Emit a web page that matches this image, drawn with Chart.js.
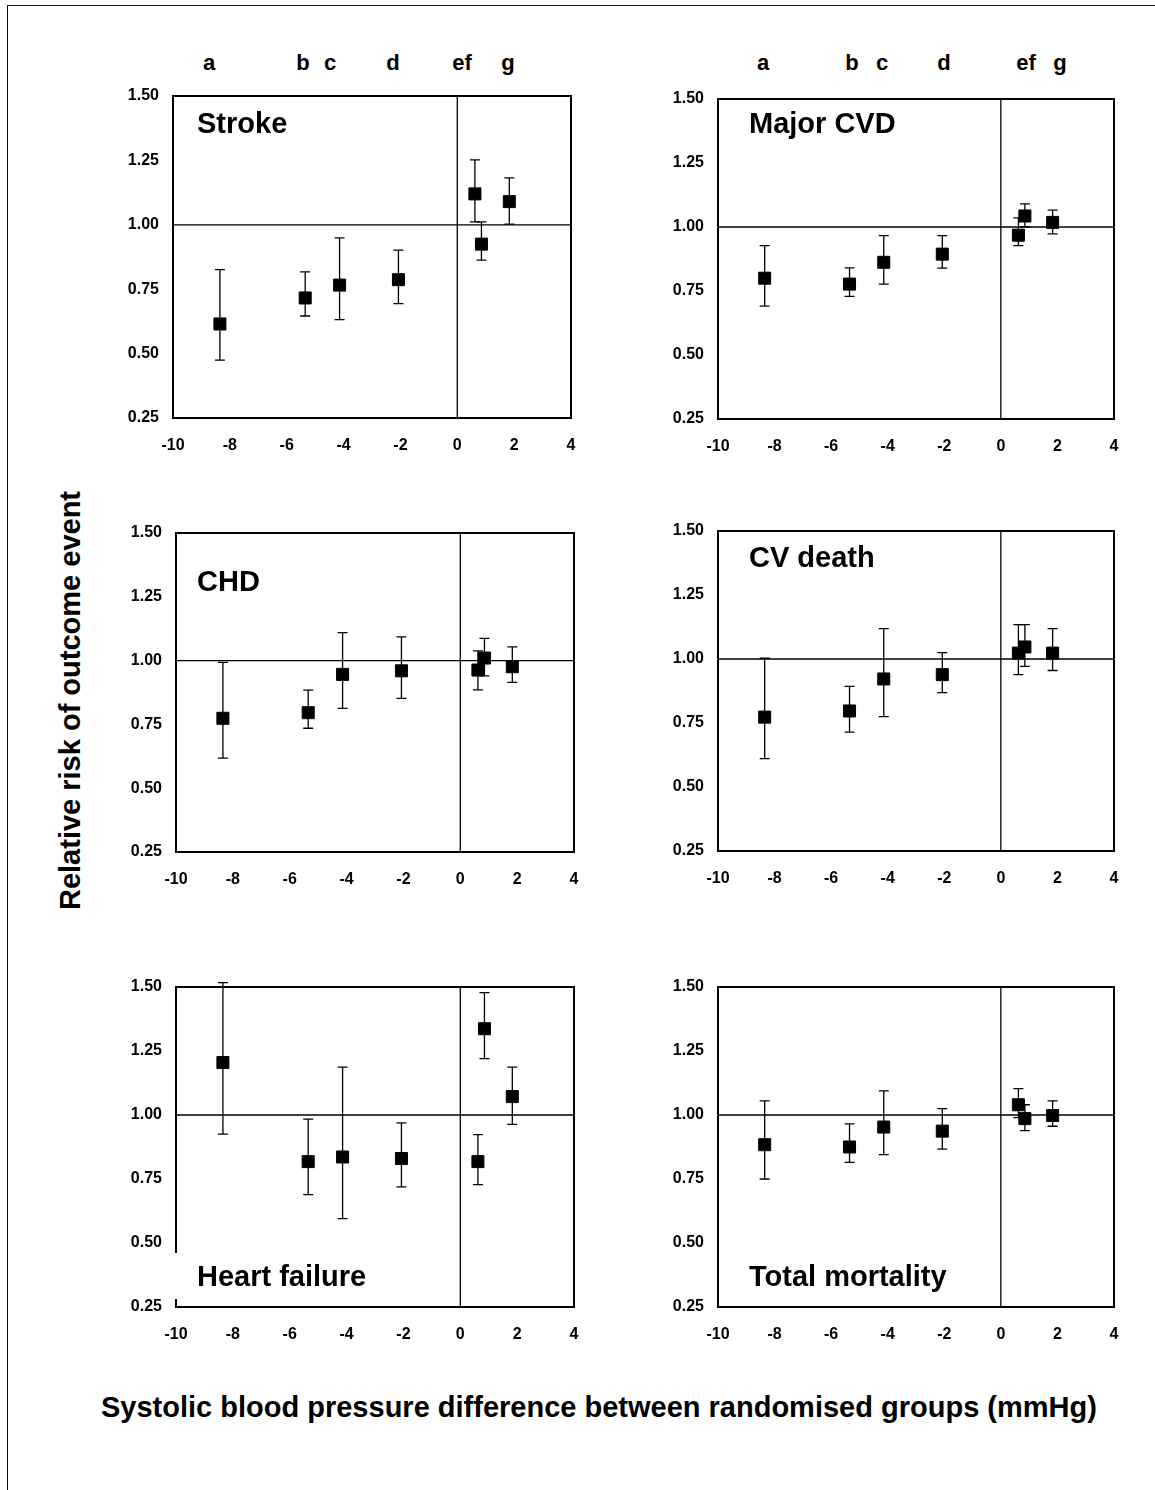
<!DOCTYPE html>
<html><head><meta charset="utf-8">
<script src="https://cdn.jsdelivr.net/npm/chart.js@4.4.1/dist/chart.umd.min.js"></script>
<style>
html,body{margin:0;padding:0;background:#fff;}
body{width:1155px;height:1490px;position:relative;overflow:hidden;font-family:"Liberation Sans",Arial,sans-serif;font-weight:bold;color:#000;}
.frame{position:absolute;left:7px;top:5px;right:0;bottom:0;border-top:1.5px solid #111;border-left:1.5px solid #111;}
canvas{position:absolute;}
.letter{position:absolute;width:40px;text-align:center;font-size:22px;line-height:22px;top:52px;}
.xtitle{position:absolute;left:101px;top:1393px;font-size:29px;line-height:29px;white-space:nowrap;}
.ytitle{position:absolute;width:600px;text-align:center;font-size:29px;line-height:29px;white-space:nowrap;left:-230px;top:685.5px;transform:rotate(-90deg);}
</style></head>
<body>
<div class="frame"></div>
<div class="ytitle">Relative risk of outcome event</div>
<div class="xtitle">Systolic blood pressure difference between randomised groups (mmHg)</div>
<script>
// ---- data ----
const trials = ['a','b','c','d','e','f','g'];
const sbpDiff = [-8.35, -5.35, -4.14, -2.07, 0.62, 0.85, 1.83];
const xTickValues = [-10, -8, -6, -4, -2, 0, 2, 4];
const yTickValues = [0.25, 0.50, 0.75, 1.00, 1.25, 1.50];
const topLetters = ['a','b','c','d','ef','g'];
const outcomes = ['Stroke','Major CVD','CHD','CV death','Heart failure','Total mortality'];

const strokeRR = [0.615, 0.716, 0.766, 0.787, 1.120, 0.925, 1.090];
const strokeLo = [0.475, 0.646, 0.632, 0.694, 1.011, 0.863, 1.003];
const strokeHi = [0.826, 0.817, 0.949, 0.902, 1.252, 1.011, 1.182];

const cvdRR = [0.800, 0.777, 0.862, 0.894, 0.968, 1.043, 1.018];
const cvdLo = [0.691, 0.729, 0.777, 0.839, 0.927, 1.001, 0.973];
const cvdHi = [0.927, 0.840, 0.966, 0.966, 1.036, 1.090, 1.066];

const chdRR = [0.774, 0.796, 0.946, 0.960, 0.963, 1.010, 0.976];
const chdLo = [0.618, 0.735, 0.813, 0.852, 0.885, 0.940, 0.915];
const chdHi = [0.993, 0.884, 1.110, 1.093, 1.038, 1.087, 1.054];

const cvDeathRR = [0.773, 0.797, 0.922, 0.939, 1.023, 1.047, 1.023];
const cvDeathLo = [0.611, 0.714, 0.775, 0.869, 0.939, 0.971, 0.955];
const cvDeathHi = [1.003, 0.893, 1.119, 1.025, 1.134, 1.134, 1.119];

const hfRR = [1.205, 0.818, 0.836, 0.830, 0.818, 1.337, 1.072];
const hfLo = [0.925, 0.689, 0.595, 0.719, 0.728, 1.220, 0.963];
const hfHi = [1.517, 0.984, 1.187, 0.969, 0.923, 1.478, 1.187];

const mortRR = [0.884, 0.875, 0.953, 0.937, 1.040, 0.986, 0.998];
const mortLo = [0.750, 0.815, 0.845, 0.867, 0.990, 0.939, 0.956];
const mortHi = [1.055, 0.965, 1.094, 1.025, 1.103, 1.040, 1.055];

// ---- layout ----
const FONT = '"Liberation Sans", Arial, sans-serif';
const PADL = 80, PADT = 32, PADR = 32, PADB = 45;
const panels = [
  {name: outcomes[0], rr: strokeRR, lo: strokeLo, hi: strokeHi, L:173, T:96,  R:571,  B:418,  lx:24, ly:37},
  {name: outcomes[1], rr: cvdRR,    lo: cvdLo,    hi: cvdHi,    L:718, T:99,  R:1114, B:419,  lx:31, ly:34},
  {name: outcomes[2], rr: chdRR,    lo: chdLo,    hi: chdHi,    L:176, T:533, R:574,  B:852,  lx:21, ly:58},
  {name: outcomes[3], rr: cvDeathRR,lo: cvDeathLo,hi: cvDeathHi,L:718, T:531, R:1114, B:851,  lx:31, ly:36},
  {name: outcomes[4], rr: hfRR,     lo: hfLo,     hi: hfHi,     L:176, T:987, R:574,  B:1307, lx:21, ly:299, box:true},
  {name: outcomes[5], rr: mortRR,   lo: mortLo,   hi: mortHi,   L:718, T:987, R:1114, B:1307, lx:31, ly:299}
];
const letterCenters = [[209,303,330,393,462,508],[763,852,882,944,1026,1060]];

letterCenters.forEach(row => row.forEach((cx, i) => {
  const d = document.createElement('div');
  d.className = 'letter';
  d.style.left = (cx - 20) + 'px';
  d.textContent = topLetters[i];
  document.body.appendChild(d);
}));

function panelPlugin(p, idx) {
  return {
    id: 'panel' + idx,
    beforeDatasetsDraw(chart) {
      const {ctx, chartArea: a, scales: {x, y}} = chart;
      ctx.save();
      ctx.strokeStyle = '#000';
      ctx.lineWidth = 1.3;
      const x0 = x.getPixelForValue(0), y1 = y.getPixelForValue(1);
      ctx.beginPath();
      ctx.moveTo(x0, a.top); ctx.lineTo(x0, a.bottom);
      ctx.moveTo(a.left, y1); ctx.lineTo(a.right, y1);
      ctx.stroke();
      ctx.lineWidth = 2;
      ctx.strokeRect(a.left, a.top, a.right - a.left, a.bottom - a.top);
      ctx.lineWidth = 1.3;
      sbpDiff.forEach((xv, i) => {
        const px = x.getPixelForValue(xv);
        const pl = y.getPixelForValue(p.lo[i]);
        const ph = y.getPixelForValue(p.hi[i]);
        ctx.beginPath();
        ctx.moveTo(px, pl); ctx.lineTo(px, ph);
        ctx.moveTo(px - 5, pl); ctx.lineTo(px + 5, pl);
        ctx.moveTo(px - 5, ph); ctx.lineTo(px + 5, ph);
        ctx.stroke();
      });
      ctx.restore();
    },
    afterDatasetsDraw(chart) {
      const {ctx, chartArea: a} = chart;
      ctx.save();
      ctx.font = 'bold 29px ' + FONT;
      if (p.box) {
        ctx.fillStyle = '#fff';
        const w = ctx.measureText(p.name).width;
        ctx.fillRect(a.left - 2, a.top + 266, p.lx + w + 6, 46);
      }
      ctx.fillStyle = '#000';
      ctx.textBaseline = 'alphabetic';
      ctx.textAlign = 'left';
      ctx.fillText(p.name, a.left + p.lx, a.top + p.ly);
      ctx.restore();
    }
  };
}

panels.forEach((p, idx) => {
  const c = document.createElement('canvas');
  const w = (p.R - p.L) + PADL + PADR, h = (p.B - p.T) + PADT + PADB;
  c.width = w; c.height = h;
  c.style.width = w + 'px'; c.style.height = h + 'px';
  c.style.left = (p.L - PADL) + 'px'; c.style.top = (p.T - PADT) + 'px';
  document.body.appendChild(c);
  new Chart(c.getContext('2d'), {
    type: 'scatter',
    data: {
      labels: trials,
      datasets: [{
        label: p.name,
        data: sbpDiff.map((xv, i) => ({x: xv, y: p.rr[i]})),
        pointStyle: 'rect',
        pointRadius: 8.5,
        pointHoverRadius: 8.5,
        backgroundColor: '#000',
        borderColor: '#000',
        borderWidth: 1
      }]
    },
    options: {
      responsive: false,
      animation: false,
      events: [],
      layout: {padding: {left: 0, top: PADT, right: PADR, bottom: 0}},
      plugins: {legend: {display: false}, tooltip: {enabled: false}},
      scales: {
        x: {
          type: 'linear', min: -10, max: 4,
          afterBuildTicks: s => { s.ticks = xTickValues.map(v => ({value: v})); },
          afterFit: s => { s.height = PADB; },
          grid: {display: false, drawTicks: false},
          border: {display: false},
          ticks: {padding: 18, color: '#000', maxRotation: 0, autoSkip: false,
                  font: {size: 16, weight: 'bold', family: FONT},
                  callback: v => String(v)}
        },
        y: {
          type: 'linear', min: 0.25, max: 1.5,
          afterBuildTicks: s => { s.ticks = yTickValues.map(v => ({value: v})); },
          afterFit: s => { s.width = PADL; },
          grid: {display: false, drawTicks: false},
          border: {display: false},
          ticks: {padding: 14, color: '#000', autoSkip: false,
                  font: {size: 16, weight: 'bold', family: FONT},
                  callback: v => Number(v).toFixed(2)}
        }
      }
    },
    plugins: [panelPlugin(p, idx)]
  });
});
</script>
</body></html>
